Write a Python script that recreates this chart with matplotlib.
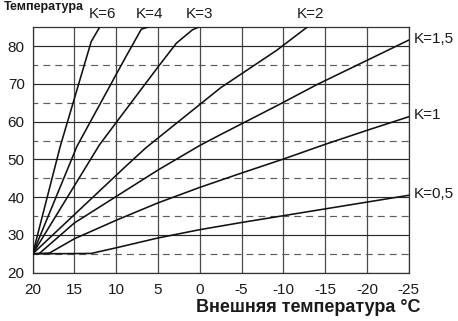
import matplotlib
matplotlib.use("Agg")
import matplotlib.pyplot as plt

plt.rcParams['font.family'] = ['Liberation Sans', 'DejaVu Sans']
plt.rcParams['lines.scale_dashes'] = False

# Heating curves: outside temperature (°C) -> flow temperature (°C)
k6_out = [20, 16.7, 13.0, 12.0]
k6_flow = [25, 53.5, 81.2, 85.0]

k4_out = [20, 14.7, 8.9, 7.0, 6.0]
k4_flow = [25, 53.5, 77.0, 84.5, 85.2]

k3_out = [20, 12.0, 10.0, 5.0, 2.8, 0.9, 0.0]
k3_flow = [25, 53.9, 59.8, 74.5, 80.8, 84.3, 85.2]

k2_out = [20, 9.0, 6.5, -2.5, -9.2, -13.0]
k2_flow = [25, 47.9, 53.0, 69.0, 78.9, 85.3]

k15_out = [20, 19.2, 15, 10, 5, 0, -2.5, -9.2, -14, -25]
k15_flow = [25, 25.1, 33.2, 40.2, 47.2, 53.7, 56.6, 64.2, 69.8, 81.6]

k1_out = [20, 18.0, 15, 10, 5, 0, -5, -10, -15, -20, -25]
k1_flow = [25, 25.2, 29.0, 33.9, 38.5, 42.6, 46.4, 50.1, 54.0, 57.7, 61.3]

k05_out = [20, 13.0, 10, 5, 0, -5, -10, -15, -20, -25]
k05_flow = [25, 25.1, 26.6, 29.2, 31.4, 33.3, 35.1, 36.9, 38.7, 40.5]

x_ticks = [20, 15, 10, 5, 0, -5, -10, -15, -20, -25]
y_ticks = [20, 30, 40, 50, 60, 70, 80]
y_minor = [25, 35, 45, 55, 65, 75]

top_labels = ["K=6", "K=4", "K=3", "K=2"]
top_label_x = [11.6, 6.0, 0.0, -13.3]
side_labels = ["K=1,5", "K=1", "K=0,5"]
side_label_y = [81.8, 61.8, 40.8]

W, H = 458, 321
fig = plt.figure(figsize=(W / 100, H / 100), dpi=100)
ax = fig.add_axes([32.7 / W, 1 - 272.7 / H, 376.0 / W, 245.4 / H])
ax.set_xlim(20, -25)
ax.set_ylim(20, 85)

grid_col = '#4a4a4a'
for x in x_ticks:
    ax.axvline(x, color=grid_col, lw=0.9, zorder=1)
for y in y_ticks:
    ax.axhline(y, color='#2a2a2a', lw=0.85, zorder=1)
for y in y_minor:
    ax.axhline(y, color='#5e5e5e', lw=0.85, ls=(1.5, (5.0, 3.6)), zorder=1)

for xs, ys in [(k6_out, k6_flow), (k4_out, k4_flow), (k3_out, k3_flow),
               (k2_out, k2_flow), (k15_out, k15_flow), (k1_out, k1_flow),
               (k05_out, k05_flow)]:
    ax.plot(xs, ys, color='#111111', lw=1.15, solid_joinstyle='round', zorder=3)

for s in ax.spines.values():
    s.set_color('#333333')
    s.set_linewidth(0.9)

ax.set_xticks(x_ticks)
ax.set_xticklabels([str(v) for v in x_ticks])
ax.set_yticks(y_ticks)
ax.tick_params(axis='both', length=0, labelsize=11, colors='#1a1a1a')
ax.tick_params(axis='x', pad=7.6)
ax.tick_params(axis='y', pad=5.8)

for lab, xv in zip(top_labels, top_label_x):
    ax.text(xv, 86.6, lab, ha='center', va='bottom', fontsize=11,
            color='#1a1a1a', clip_on=False)
for lab, yv in zip(side_labels, side_label_y):
    ax.text(1.014, (yv - 20) / 65, lab, transform=ax.transAxes, ha='left',
            va='center', fontsize=11, color='#1a1a1a', clip_on=False)

fig.text(420 / W, 1 - 308 / H, "Внешняя температура °C", ha='right',
         va='center', fontsize=13, fontweight='bold', color='#1a1a1a')
fig.text(4 / W, 1 - 1 / H, "Температура", ha='left', va='top',
         fontsize=9, fontweight='bold', color='#1a1a1a')

fig.savefig("out.png", dpi=100)
